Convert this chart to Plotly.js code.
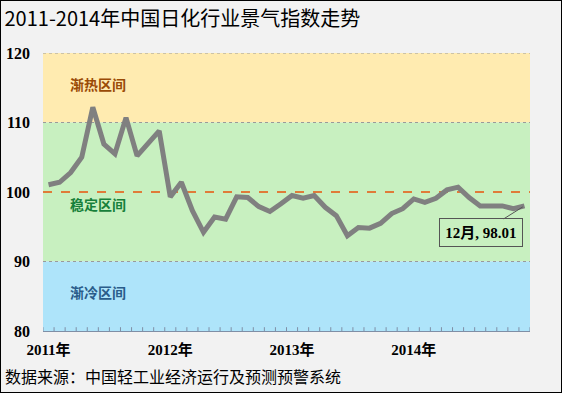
<!DOCTYPE html>
<html>
<head>
<meta charset="utf-8">
<script src="https://cdn.plot.ly/plotly-3.0.1.min.js"></script>
<style>
html,body{margin:0;padding:0;background:#f2f2f2;}
#chart{width:562px;height:393px;box-sizing:border-box;}
#frame{position:absolute;left:0;top:0;width:562px;height:393px;box-sizing:border-box;border:1px solid #000;pointer-events:none;}
</style>
</head>
<body>
<div id="chart"></div>
<div id="frame"></div>
<script>
// Jan and Feb are reported together, so each year has 11 periods
const years = ['2011','2012','2013','2014'];
const periods = ['1-2月','3月','4月','5月','6月','7月','8月','9月','10月','11月','12月'];
const indexValues = [
 101.05,101.4,102.8,105.0,112.2,106.9,105.5,110.7,105.2,107.0,108.8,
 99.3,101.4,97.3,94.2,96.4,96.1,99.3,99.2,97.9,97.2,98.3,
 99.5,99.1,99.5,97.8,96.6,93.7,94.9,94.8,95.5,96.9,97.6,
 99.0,98.5,99.1,100.3,100.7,99.2,98.0,98.0,98.0,97.6,98.01
];
const yearLabels = ['2011年','2012年','2013年','2014年'];
const zones = [
 {name:'渐热区间', lo:110, hi:120, fill:'#FFEBB0', text:'#9A4A06'},
 {name:'稳定区间', lo:90, hi:110, fill:'#C8F0C0', text:'#17803A'},
 {name:'渐冷区间', lo:80, hi:90, fill:'#AEE4FA', text:'#2A5C8A'}
];
const zoneLabelY = [115.5, 98.3, 85.6];
const lastLabel = '12月, 98.01';

const categories = [];
years.forEach(y=>periods.forEach(p=>categories.push(y+'年'+p)));
const n = categories.length;
const x = categories.map((c,i)=>i);
const yearIdx = years.map((y,k)=>k*periods.length);

const shapes = [];
zones.forEach(z=>{
  shapes.push({type:'rect',xref:'x',yref:'y',x0:-0.5,x1:n-0.5,y0:z.lo,y1:z.hi,fillcolor:z.fill,line:{width:0},layer:'below'});
});
[120,110,90].forEach(v=>{
  shapes.push({type:'line',xref:'x',yref:'y',x0:-0.5,x1:n-0.5,y0:v,y1:v,line:{color:'#9a9a9a',width:1,dash:'dot'},layer:'below'});
});
shapes.push({type:'line',xref:'x',yref:'y',x0:-0.5,x1:n-0.5,y0:100,y1:100,line:{color:'#E07B39',width:2,dash:'dash'},layer:'below'});
// category boundary tick marks on the bottom axis
for(let i=0;i<=n;i++){
  shapes.push({type:'line',xref:'x',yref:'y',x0:i-0.5,x1:i-0.5,y0:80,y1:80.55,line:{color:'#7f8fa6',width:1}});
}

const annotations = zones.map((z,k)=>({
  x:4.5,y:zoneLabelY[k],xref:'x',yref:'y',text:z.name,showarrow:false,
  font:{family:'Noto Sans CJK SC',size:14,color:z.text,weight:'bold'}
}));
annotations.push({
  x:n-1,y:indexValues[n-1],xref:'x',yref:'y',text:lastLabel,showarrow:true,
  ax:-43,ay:27,arrowhead:0,arrowwidth:1,arrowcolor:'#555',standoff:2,
  width:74,height:19,borderpad:4,
  bgcolor:'#C8F0C0',bordercolor:'#555',borderwidth:1,
  font:{family:'Liberation Serif, Noto Sans CJK SC',size:15,color:'#000',weight:'bold'}
});
annotations.push({
  x:0,y:1,xref:'paper',yref:'paper',xanchor:'left',yanchor:'top',showarrow:false,
  text:'数据来源：中国轻工业经济运行及预测预警系统',
  font:{family:'Noto Sans CJK SC',size:16,color:'#000'},
  xshift:-40, yshift:-309
});

const data = [{
  type:'scatter',mode:'lines',x:x,y:indexValues,text:categories,
  line:{color:'#808080',width:5},hoverinfo:'skip'
}];

const layout = {
  width:562,height:393,
  paper_bgcolor:'#f2f2f2',plot_bgcolor:'rgba(0,0,0,0)',
  margin:{l:43,r:32,t:53,b:62},
  showlegend:false,
  title:{text:'2011-2014年中国日化行业景气指数走势',x:0.008,xanchor:'left',y:0.97,yanchor:'top',
         font:{family:'Noto Sans CJK SC',size:20,color:'#000'}},
  xaxis:{range:[-0.5,n-0.5],tickvals:yearIdx,ticktext:yearLabels,ticks:'',showgrid:false,zeroline:false,
         showline:true,linecolor:'#7f8fa6',linewidth:1,ticklabelstandoff:5,
         tickfont:{family:'Liberation Serif, Noto Sans CJK SC',size:15,color:'#000',weight:'bold'},
         fixedrange:true},
  yaxis:{range:[80,120],tickvals:[80,90,100,110,120],showgrid:false,zeroline:false,showline:false,ticks:'',
         ticklabelstandoff:12,
         tickfont:{family:'Liberation Serif',size:16,color:'#000',weight:'bold'},fixedrange:true},
  shapes:shapes,annotations:annotations
};
Plotly.newPlot('chart',data,layout,{displayModeBar:false,staticPlot:true});
</script>
</body>
</html>
